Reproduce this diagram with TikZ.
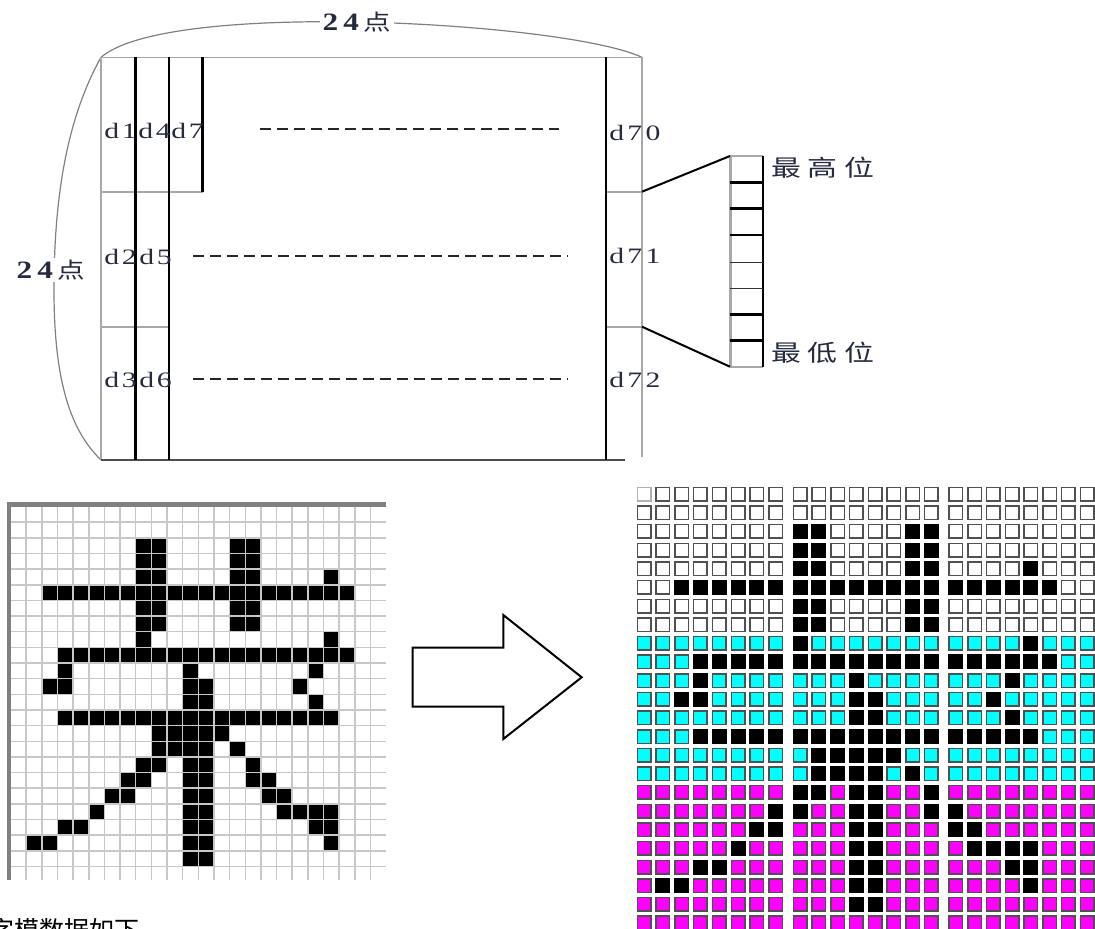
\documentclass[tikz,border=0pt]{standalone}
\usepackage{fontspec}
\setmainfont{Liberation Serif}
\newfontfamily\cjk{Noto Sans CJK SC}
\definecolor{labc}{HTML}{252A40}
\definecolor{gridc}{HTML}{C8C8C8}
\definecolor{bordc}{HTML}{808080}
\definecolor{rimc}{HTML}{A8A8A8}
\definecolor{sqc}{HTML}{505050}
\definecolor{cyanc}{HTML}{00FFFF}
\definecolor{magc}{HTML}{FF00FF}
\def\glyph{2/{8,9,14,15},3/{8,9,14,15},4/{8,9,14,15,20},5/{2,...,21},6/{8,9,14,15},7/{8,9,14,15},8/{8,20},9/{3,...,21},10/{3,11,19},11/{2,3,11,12,18},12/{11,12,19},13/{3,...,20},14/{9,...,13},15/{9,10,11,12,14},16/{8,9,11,12,15},17/{7,8,11,12,15,16},18/{6,7,11,12,16,17},19/{5,11,12,17,18,19,20},20/{3,4,11,12,19,20},21/{1,2,11,12,20},22/{11,12}}
\begin{document}
\begin{tikzpicture}[x=1pt,y=-1pt,
  dlab/.style={font=\fontsize{22}{22}\selectfont, text=labc, inner sep=0pt, anchor=west, xscale=1.35},
  cjklab/.style={font=\cjk\fontsize{23}{23}\selectfont, text=labc, inner sep=0pt, anchor=west, xscale=1.3},
  numlab/.style={text=labc, inner sep=2pt, fill=white, xscale=1.25},
  rim/.style={draw=rimc, line width=1.6pt},
  bar/.style={draw=black, line width=#1},
  dashrow/.style={draw=black!85, line width=2.2pt, dash pattern=on 11pt off 6pt},
  brace/.style={draw=bordc, line width=1.2pt},
  sq/.style={draw=sqc, line width=1.5pt},
  cell/.style={fill=black}
]
\useasboundingbox (0,0) rectangle (1095,929);

% ---------- top diagram ----------
\coordinate (tl) at (101,57.3);
\coordinate (tr) at (642,57.3);
\coordinate (bl) at (101,460);
\draw[brace] (tl) .. controls (135,28) and (250,20) .. (357,22) .. controls (470,24) and (600,38) .. (tr);
\draw[brace] (tl) .. controls (66,120) and (54,200) .. (54,290) .. controls (54,380) and (70,430) .. (bl);
\node[numlab] (top24) at (357,22) {{\fontsize{25}{25}\selectfont\bfseries 2\kern4pt 4\kern4pt}{\cjk\fontsize{22}{22}\selectfont 点}};
\node[numlab] (left24) at (51,270) {{\fontsize{25}{25}\selectfont\bfseries 2\kern4pt 4\kern4pt}{\cjk\fontsize{22}{22}\selectfont 点}};

\draw[rim] (tl) -- (tr);
\draw[rim] (tl) -- (bl);
\draw[rim] (tr) -- (642,457);
\draw[draw=black!70, line width=1.8pt] (bl) -- (625,460);
\draw[rim] (101,191.7) -- (202.5,191.7);
\draw[rim] (606,191.7) -- (642,191.7);
\draw[rim] (101,326.7) -- (169,326.7);
\draw[rim] (606,326.7) -- (642,326.7);
\draw[bar=3.5pt] (135.7,57.3) -- (135.7,460);
\draw[bar=2pt] (169,57.3) -- (169,460);
\draw[bar=3pt] (202.5,57.3) -- (202.5,191.7);
\draw[bar=2.2pt] (606,57.3) -- (606,460);

\draw[dashrow] (260,129.3) -- (559,129.3);
\draw[dashrow] (193,256) -- (568,256);
\draw[dashrow] (193,379.3) -- (568,379.3);

\node[dlab] (d1) at (104,131) {d\kern2pt 1};
\node[dlab] (d4) at (138,131) {d\kern2pt 4};
\node[dlab] (d7) at (171,131) {d\kern2pt 7};
\node[dlab] (d2) at (104,257) {d\kern2pt 2};
\node[dlab] (d5) at (139,257) {d\kern2pt 5};
\node[dlab] (d3) at (104,380) {d\kern2pt 3};
\node[dlab] (d6) at (139,380) {d\kern2pt 6};
\node[dlab] (d70) at (609,133) {d\kern2.5pt 7\kern2.5pt 0};
\node[dlab] (d71) at (609,256) {d\kern2.5pt 7\kern2.5pt 1};
\node[dlab] (d72) at (609,380) {d\kern2.5pt 7\kern2.5pt 2};

% bit box
\coordinate (ra) at (642,191.7);
\coordinate (rb) at (642,326.7);
\coordinate (ba) at (730,156);
\coordinate (bb) at (730,366.7);
\draw[draw=rimc, line width=1.6pt] (730,156) -- (763.3,156);
\draw[draw=rimc, line width=1.6pt] (730,366.7) -- (763.3,366.7);
\draw[draw=rimc, line width=3pt] (730,156) -- (730,366.7);
\draw[bar=2pt] (763.3,156) -- (763.3,366.7);
\foreach \yy in {182.7,208.7,235,314.3,340.7} \draw[bar=2.5pt] (730,\yy) -- (763.3,\yy);
\foreach \yy in {262.3,288} \draw[draw=black!80, line width=1pt] (730,\yy) -- (763.3,\yy);
\draw[bar=2pt] (ra) -- (ba);
\draw[bar=2pt] (rb) -- (bb);
\node[cjklab] (hi) at (771,168) {最\kern5pt 高\kern5pt 位};
\node[cjklab] (lo) at (771,353) {最\kern5pt 低\kern5pt 位};

% ---------- left bitmap ----------
\foreach \r/\cl in \glyph {
  \foreach \c in \cl {
    \fill[cell] ({10.5+15.65*\c},{506.5+15.65*\r}) rectangle ++(15.65,15.65);
  }
}
\foreach \i in {1,...,23} \draw[draw=gridc, line width=1.5pt] ({10.5+15.65*\i},506.5) -- ({10.5+15.65*\i},880);
\foreach \j in {1,...,23} \draw[draw=gridc, line width=1.5pt] (10.5,{506.5+15.65*\j}) -- (386,{506.5+15.65*\j});
\draw[draw=bordc, line width=4.4pt] (6.6,504.5) -- (386,504.5);
\draw[draw=bordc, line width=4.4pt] (8.8,502.3) -- (8.8,880);

% ---------- arrow ----------
\draw[draw=black, line width=2pt, line join=miter] (412.7,647.7) -- (503.3,647.7) -- (503.3,615) -- (581.7,677.3) -- (503.3,739) -- (503.3,706.7) -- (412.7,706.7) -- cycle;

% ---------- right colour grid ----------
\foreach \r in {0,...,7} \foreach \c in {0,...,23}
  \draw[sq, fill=white] ({637.45+18.76*\c+5.72*floor(\c/8)},{487.45+18.64*\r}) rectangle ++(13.5,13.5);
\foreach \r in {8,...,15} \foreach \c in {0,...,23}
  \draw[sq, fill=cyanc] ({637.45+18.76*\c+5.72*floor(\c/8)},{487.45+18.64*\r}) rectangle ++(13.5,13.5);
\foreach \r in {16,...,23} \foreach \c in {0,...,23}
  \draw[sq, fill=magc] ({637.45+18.76*\c+5.72*floor(\c/8)},{487.45+18.64*\r}) rectangle ++(13.5,13.5);
\draw[sq, draw=black!30, fill=white] (637.45,487.45) rectangle ++(13.5,13.5);
\foreach \r/\cl in \glyph {
  \foreach \c in \cl {
    \draw[sq, draw=black, fill=black] ({637.45+18.76*\c+5.72*floor(\c/8)},{487.45+18.64*\r}) rectangle ++(13.5,13.5);
  }
}

% ---------- caption ----------
\node[anchor=base west, inner sep=0pt, font=\cjk\fontsize{25}{25}\selectfont] (cap) at (-11,939) {字模数据如下};
\end{tikzpicture}
\end{document}
